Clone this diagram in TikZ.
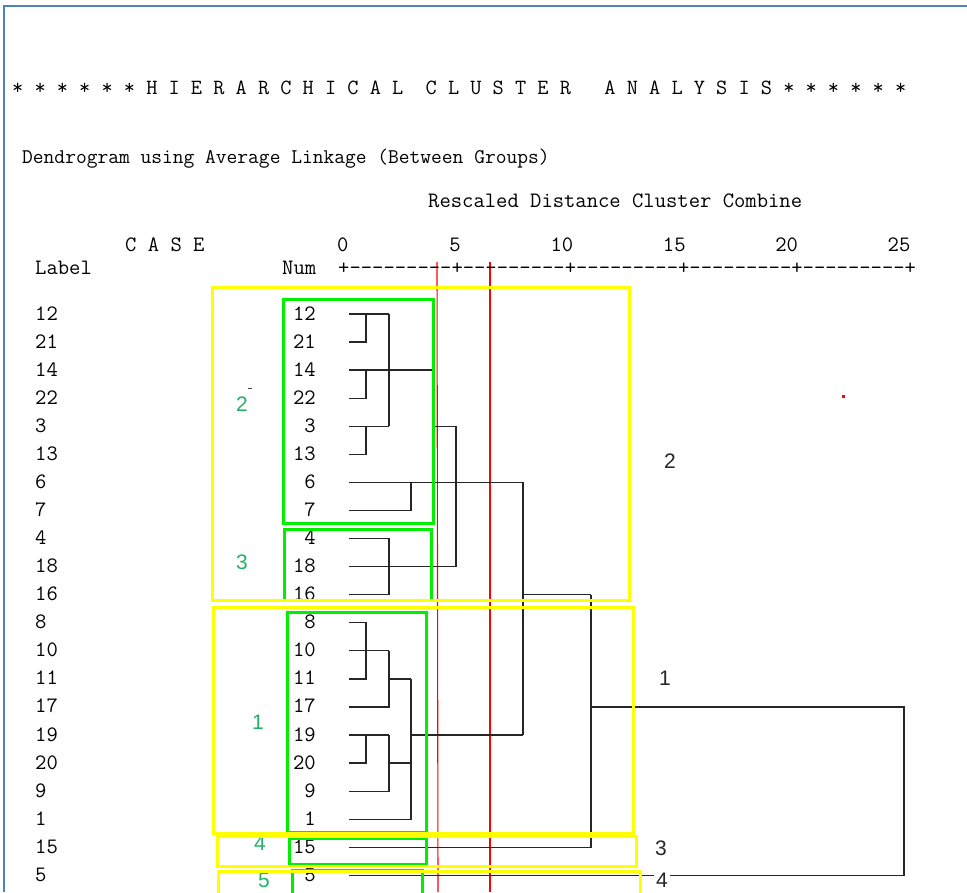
\documentclass[tikz,border=0pt]{standalone}
\usepackage{fontspec}
\setmainfont{Liberation Sans}
\usetikzlibrary{positioning,calc}

\definecolor{frameblue}{RGB}{79,129,189}
\definecolor{boxyellow}{RGB}{255,255,0}
\definecolor{boxgreen}{RGB}{0,238,0}
\definecolor{tagteal}{RGB}{34,178,102}
\definecolor{cutred}{RGB}{255,0,0}

\begin{document}
\begin{tikzpicture}[
    x=1pt, y=-1pt,
    mono/.style={inner sep=0pt, anchor=base west, font=\fontsize{22}{24}\selectfont\ttfamily, text=black},
    link/.style={draw=black!85, line width=1.3pt},
    ybox/.style={draw=boxyellow, line width=3pt},
    gbox/.style={draw=boxgreen, line width=3pt},
    cutthin/.style={draw=cutred, line width=1.1pt},
    cutthick/.style={draw=cutred, line width=2.4pt},
    tag/.style={inner sep=0pt, font=\fontsize{21}{22}\selectfont, text=tagteal},
    grp/.style={inner sep=2pt, font=\fontsize{21}{22}\selectfont, text=black!85}
]
    \useasboundingbox (0,0) rectangle (967,892);

    % window frame
    \draw[frameblue, line width=2.5pt] (4,892) -- (4,6) -- (967,6);

    % cut lines
    \draw[cutthin] (437,262) -- (438,892);
    \draw[cutthick] (490,262) -- (490,892);

    % header
    \node[mono, font=\fontsize{21.7}{24}\selectfont\ttfamily] (title) at (12,94) {* * * * * * H I E R A R C H I C A L\ \ C L U S T E R\ \ \ A N A L Y S I S * * * * * *};
    \node[mono, font=\fontsize{20.9}{24}\selectfont\ttfamily] (method) at (22,163) {Dendrogram using Average Linkage (Between Groups)};
    \node[mono] (scale) at (428,207) {Rescaled Distance Cluster Combine};
    \node[mono] (case) at (125,251) {C A S E};
    \node[mono] (label) at (35,274) {Label};
    \node[mono] (num) at (282,274) {Num};
    \node[mono] (axis) at (338,274) {+---------+---------+---------+---------+---------+};
    \foreach \v in {0,5,...,25}
        \node[mono, anchor=base east] (tick\v) at ({343+22.48*\v+5.6},251) {\v};

    % cases
    \foreach \lab [count=\i from 0] in {12,21,14,22,3,13,6,7,4,18,16,8,10,11,17,19,20,9,1,15,5} {
        \node[mono] (lab\lab) at (35,{320+28.07*\i}) {\lab};
        \node[mono, anchor=base east] (num\lab) at (316,{320+28.07*\i}) {\lab};
        \coordinate (leaf\lab) at (349,{314+28.07*\i});
    }

    % merge levels
    \coordinate (d1) at (366,0);
    \coordinate (d2) at (389,0);
    \coordinate (d3) at (411,0);
    \coordinate (d4) at (433,0);
    \coordinate (d5) at (456,0);
    \coordinate (d8) at (523,0);
    \coordinate (d11) at (591,0);
    \coordinate (d25) at (904,0);

    % dendrogram
    \draw[link] (leaf12) -- (leaf12 -| d2);
    \draw[link] (leaf21) -| (leaf12 -| d1);
    \draw[link] (leaf14) -- (leaf14 -| d4);
    \draw[link] (leaf22) -| (leaf14 -| d1);
    \draw[link] (leaf3) -- (leaf3 -| d2);
    \draw[link] (leaf13) -| (leaf3 -| d1);
    \draw[link] (leaf12 -| d2) -- (leaf3 -| d2);
    \draw[link] (leaf6) -- (leaf6 -| d8);
    \draw[link] (leaf7) -| (leaf6 -| d3);
    \draw[link] (leaf14 -| d4) -- (leaf6 -| d4);
    \draw[link] (leaf3 -| d4) -- (leaf3 -| d5);
    \draw[link] (leaf4) -| (leaf16 -| d2) -- (leaf16);
    \draw[link] (leaf18) -- (leaf18 -| d5);
    \draw[link] (leaf3 -| d5) -- (leaf18 -| d5);
    \draw[link] (leaf8) -| (leaf11 -| d1) -- (leaf11);
    \draw[link] (leaf10) -- (leaf10 -| d2);
    \draw[link] (leaf17) -| (leaf10 -| d2);
    \draw[link] (leaf11 -| d2) -- (leaf11 -| d3);
    \draw[link] (leaf19) -- (leaf19 -| d2);
    \draw[link] (leaf20) -| (leaf19 -| d1);
    \draw[link] (leaf9) -| (leaf19 -| d2);
    \draw[link] (leaf20 -| d2) -- (leaf20 -| d3);
    \draw[link] (leaf1) -| (leaf11 -| d3);
    \draw[link] (leaf19 -| d3) -- (leaf19 -| d8);
    \draw[link] (leaf6 -| d8) -- (leaf19 -| d8);
    \draw[link] (leaf16 -| d8) -- (leaf16 -| d11);
    \draw[link] (leaf15) -| (leaf16 -| d11);
    \draw[link] (leaf17 -| d11) -| (leaf5 -| d25) -- (leaf5);

    % green groups
    \draw[gbox] (283,299) rectangle (433,523);
    \draw[gbox] (284,529) rectangle (431,600);
    \draw[gbox] (287,612) rectangle (426,832);
    \draw[gbox] (289,838) rectangle (426,864);
    \draw[gbox] (292,870) rectangle (422,900);
    \node[tag] (t2) at (242,404) {2};
    \node[tag] (t3) at (242,562) {3};
    \node[tag] (t1) at (258,722) {1};
    \node[tag] (t4) at (260,843) {4};
    \node[tag] (t5) at (264,880) {5};
    \fill[black!70] (248,387.5) rectangle (252,389);

    % yellow clusters
    \draw[ybox] (212,287) rectangle (629,600);
    \draw[ybox] (213,607) rectangle (633,833);
    \draw[ybox] (217,836) rectangle (636,866);
    \draw[ybox] (218,871) rectangle (640,900);
    \node[grp] (c2) at (670,461) {2};
    \node[grp] (c1) at (665,678) {1};
    \node[grp] (c3) at (661,848) {3};
    \node[grp, fill=white] (c4) at (662,880) {4};

    \fill[cutred] (841.5,394.5) rectangle (844.5,397.5);
\end{tikzpicture}
\end{document}
